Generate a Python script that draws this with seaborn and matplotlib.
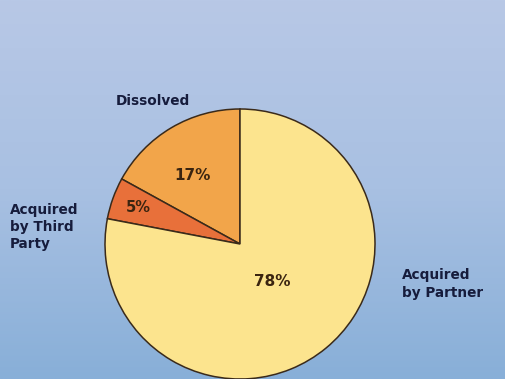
import numpy as np
import matplotlib
matplotlib.use("Agg")
import matplotlib.pyplot as plt
import seaborn as sns
from matplotlib.colors import LinearSegmentedColormap

# Data
categories = ["Acquired by Partner", "Dissolved", "Acquired by Third Party"]
shares = [78, 17, 5]
label_texts = ["Acquired\nby Partner", "Dissolved", "Acquired\nby Third\nParty"]
pct_texts = ["78%", "17%", "5%"]
colors = ["#FCE48E", "#F2A54A", "#E8703A"]

sns.set_theme(style="white")
plt.rcParams["font.family"] = ["DejaVu Sans"]

fig = plt.figure(figsize=(5.05, 3.79), dpi=100)

# background gradient
bg = fig.add_axes([0, 0, 1, 1])
bg.set_axis_off()
cmap = LinearSegmentedColormap.from_list("bg", ["#B8C8E6", "#A8C0E2", "#88AFD8"])
grad = np.linspace(0, 1, 256).reshape(-1, 1)
bg.imshow(grad, aspect="auto", cmap=cmap, extent=[0, 1, 0, 1], origin="upper")
bg.set_xlim(0, 1)
bg.set_ylim(0, 1)

ax = fig.add_axes([0, 0, 1, 1])
ax.set_axis_off()
ax.patch.set_alpha(0)

order = [1, 2, 0]
wedges, _ = ax.pie([shares[i] for i in order],
                   colors=[colors[i] for i in order],
                   startangle=90, counterclock=True,
                   wedgeprops=dict(edgecolor="#3a2a1a", linewidth=1.1))

R = 135.0
W, H = 505, 379
cx, cy = 240, 244
ax.set_aspect("auto")
ax.set_xlim(-cx / R, (W - cx) / R)
ax.set_ylim(-(H - cy) / R, cy / R)

def px(x, y):
    return ((x - cx) / R, (cy - y) / R)

def inside(w, r):
    a = np.deg2rad((w.theta1 + w.theta2) / 2)
    return (r * np.cos(a), r * np.sin(a))

txtcol = "#161c3c"
pctcol = "#3a2410"

ax.text(*px(153, 101), label_texts[1], ha="center", va="center",
        fontsize=9.8, fontweight="bold", color=txtcol)
ax.text(*px(10, 227), label_texts[2], ha="left", va="center",
        fontsize=9.8, fontweight="bold", color=txtcol, linespacing=1.3)
ax.text(*px(402, 284), label_texts[0], ha="left", va="center",
        fontsize=9.8, fontweight="bold", color=txtcol, linespacing=1.3)

ax.text(*px(192, 175), pct_texts[1], ha="center", va="center",
        fontsize=11, fontweight="bold", color=pctcol)
ax.text(*inside(wedges[1], 0.8), pct_texts[2], ha="center", va="center",
        fontsize=10.5, fontweight="bold", color=pctcol)
ax.text(*px(272, 281), pct_texts[0], ha="center", va="center",
        fontsize=11, fontweight="bold", color=pctcol)

fig.savefig("out.png", dpi=100)
